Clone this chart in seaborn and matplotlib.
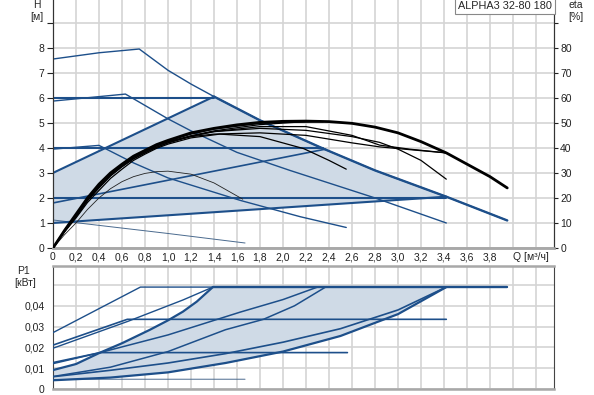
import numpy as np
import matplotlib
matplotlib.use("Agg")
import matplotlib.pyplot as plt
import seaborn as sns

# ---- H (m) curves vs Q (m3/h) ----
q_A = [0, 0.4, 0.75, 1.0, 1.2, 1.4, 1.8, 2.35, 2.8, 3.42, 3.95]
h_A = [7.55, 7.8, 7.95, 7.1, 6.55, 6.05, 5.1, 3.97, 3.1, 2.05, 1.1]
q_B = [0, 0.63, 1.0, 1.2, 1.6, 2.06, 2.8, 3.42]
h_B = [5.87, 6.15, 5.16, 4.68, 3.82, 3.1, 2.0, 1.0]
q_C = [0, 0.4, 0.7, 1.0, 1.63, 2.15, 2.55]
h_C = [3.95, 4.1, 3.4, 2.8, 1.9, 1.25, 0.82]
q_D = [0, 0.5, 1.0, 1.67]
h_D = [1.12, 0.85, 0.58, 0.2]

q_const6, h_const6 = [0, 1.4], [6, 6]
q_const4, h_const4 = [0, 2.35], [4, 4]
q_const2, h_const2 = [0, 3.42], [2, 2]
q_pp_up, h_pp_up = [0, 1.4], [3, 6.05]
q_pp_mid, h_pp_mid = [0, 2.37], [1.8, 3.95]
q_pp_low, h_pp_low = [0, 3.42], [1.0, 2.05]

# ---- eta (%) curves ----
q_eA = [0, 0.1, 0.2, 0.3, 0.4, 0.5, 0.6, 0.7, 0.8, 0.9, 1.0, 1.2, 1.4, 1.6, 1.8, 2.0, 2.2, 2.4, 2.6, 2.8, 3.0, 3.2, 3.42, 3.6, 3.8, 3.95]
e_A = [0, 7, 13.5, 20, 25.5, 30, 33.5, 36.7, 39, 41.3, 43, 46, 47.8, 49.2, 50.2, 50.6, 50.7, 50.5, 49.8, 48.3, 46, 42.5, 38, 33.5, 28.5, 24]
q_eB = [0, 0.1, 0.2, 0.3, 0.4, 0.5, 0.6, 0.7, 0.8, 0.9, 1.0, 1.2, 1.4, 1.8, 2.2, 2.6, 2.84, 3.0, 3.2, 3.42]
e_B = [0, 6.6, 12.5, 18.9, 24, 28.8, 32.5, 35.6, 38, 40.2, 42, 44.6, 46.5, 47.8, 47, 44.5, 42.2, 39.5, 35, 27.5]
q_eC = [0, 0.1, 0.2, 0.3, 0.4, 0.5, 0.6, 0.7, 0.8, 0.9, 1.0, 1.2, 1.45, 1.8, 2.18, 2.4, 2.55]
e_C = [0, 6.4, 12, 18.2, 23, 27.8, 31.5, 35, 37.5, 39.8, 41.5, 44, 45.5, 44.5, 39.7, 35, 31.5]
q_eD = [0, 0.1, 0.2, 0.3, 0.4, 0.5, 0.6, 0.7, 0.8, 0.9, 1.0, 1.2, 1.4, 1.65]
e_D = [0, 5.3, 10, 15.4, 20, 23.7, 26.5, 28.5, 29.8, 30.5, 30.7, 29.5, 26, 19.5]
q_eH2 = [0, 0.1, 0.2, 0.3, 0.4, 0.5, 0.6, 0.7, 0.8, 0.9, 1.0, 1.2, 1.4, 1.8, 2.2, 2.6, 2.84, 3.1, 3.42]
e_H2 = [0, 6.8, 12.8, 19.3, 24.5, 29.3, 33, 36.2, 38.5, 40.8, 42.5, 44.8, 46.5, 48.5, 48.5, 45, 41.1, 39.5, 38]
q_ePPlow = [0, 0.1, 0.2, 0.3, 0.4, 0.5, 0.6, 0.7, 0.8, 0.9, 1.0, 1.2, 1.4, 1.8, 2.2, 2.6, 2.84, 3.1, 3.42]
e_PPlow = [0, 6.9, 13, 19.7, 25, 29.5, 33, 36.2, 38.5, 40.8, 42.5, 44.5, 45.5, 46, 45, 42, 40.4, 39.3, 38]
q_eH4 = [0, 0.1, 0.2, 0.3, 0.4, 0.5, 0.6, 0.7, 0.8, 0.9, 1.0, 1.2, 1.4, 1.8, 2.1, 2.35]
e_H4 = [0, 7, 13.2, 19.8, 25, 29.7, 33.3, 36.5, 38.8, 41.1, 42.8, 45.5, 47.5, 49.8, 50.4, 50.5]
q_ePPmid = [0, 0.1, 0.2, 0.3, 0.4, 0.5, 0.6, 0.7, 0.8, 0.9, 1.0, 1.2, 1.4, 1.8, 2.1, 2.35]
e_PPmid = [0, 6.7, 12.7, 19.1, 24.2, 28.9, 32.5, 35.7, 38, 40.3, 42, 44.8, 46.8, 49.3, 50.2, 50.5]
q_eH6 = [0, 0.1, 0.2, 0.3, 0.4, 0.5, 0.6, 0.7, 0.8, 0.9, 1.0, 1.2, 1.4]
e_H6 = [0, 7.05, 13.3, 20, 25.3, 29.9, 33.4, 36.6, 38.9, 41.2, 42.9, 45.8, 47.8]

# ---- P1 (kW) curves ----
q_pA, p_A = [0, 0.76, 3.95], [0.0271, 0.049, 0.049]
q_pB, p_B = [0, 0.646, 3.42], [0.0211, 0.0335, 0.0335]
q_pC, p_C = [0, 0.41, 2.56], [0.0127, 0.0175, 0.0175]
q_pD, p_D = [0, 0.2, 1.67], [0.0044, 0.0047, 0.0047]
q_pH6 = [0, 0.65, 1.13, 1.39]
p_H6 = [0.0196, 0.0325, 0.0428, 0.049]
q_pH4 = [0, 0.41, 1.0, 1.63, 2.0, 2.30]
p_H4 = [0.0122, 0.0175, 0.026, 0.037, 0.043, 0.049]
q_pH2 = [0, 0.5, 1.0, 1.5, 2.0, 2.5, 3.0, 3.42]
p_H2 = [0.0059, 0.009, 0.0125, 0.017, 0.0225, 0.029, 0.038, 0.049]
q_pPPup = [0, 0.2, 0.41, 0.6, 0.84, 1.0, 1.13, 1.25, 1.39]
p_PPup = [0.0091, 0.012, 0.0175, 0.022, 0.0284, 0.033, 0.0372, 0.042, 0.049]
q_pPPmid = [0, 0.5, 1.0, 1.5, 1.83, 2.1, 2.37]
p_PPmid = [0.006, 0.0105, 0.018, 0.0285, 0.0335, 0.040, 0.049]
q_pPPlow = [0, 0.5, 1.0, 1.5, 2.0, 2.5, 3.0, 3.42]
p_PPlow = [0.0042, 0.0055, 0.008, 0.0125, 0.018, 0.0255, 0.036, 0.049]

x_ticks = [0, 0.2, 0.4, 0.6, 0.8, 1.0, 1.2, 1.4, 1.6, 1.8, 2.0, 2.2, 2.4, 2.6, 2.8, 3.0, 3.2, 3.4, 3.6, 3.8]
x_labels = [("%.1f" % v).replace(".", ",") if v else "0" for v in x_ticks]

BLUE = "#1d4f8a"
FILL = "#cfdae6"
GRID = "#d4d4d4"

sns.set_style("white")
plt.rcParams["font.family"] = ["Liberation Sans", "DejaVu Sans"]
plt.rcParams["font.size"] = 7.5

fig = plt.figure(figsize=(5.94, 3.95), dpi=100)
ax = fig.add_axes([53 / 594, 1 - 248 / 395, 501 / 594, 248 / 395])
ax2 = ax.twinx()
bx = fig.add_axes([53 / 594, 1 - 389 / 395, 501 / 594, 123 / 395])

xmax = 501 / 115

def line(a, q, v, lw=1.0, color=BLUE, z=3):
    sns.lineplot(x=q, y=v, ax=a, color=color, linewidth=lw, estimator=None, sort=False, zorder=z)

# ---------- top plot ----------
ia, ib = q_A.index(1.4), q_A.index(3.42)
poly_q = q_pp_up + q_A[ia:ib + 1] + q_pp_low[::-1]
poly_h = h_pp_up + h_A[ia:ib + 1] + h_pp_low[::-1]
ax.fill(poly_q, poly_h, color=FILL, zorder=1, lw=0)

line(ax, q_A, h_A, 1.0)
line(ax, q_A[ia:], h_A[ia:], 1.7)
line(ax, q_B, h_B, 1.0)
line(ax, q_C, h_C, 1.0)
line(ax, q_D, h_D, 0.7, color="#4a6a8e")
line(ax, q_const6, h_const6, 1.5)
line(ax, q_const4, h_const4, 1.5)
line(ax, q_const2, h_const2, 1.5)
line(ax, q_pp_up, h_pp_up, 1.5)
line(ax, q_pp_mid, h_pp_mid, 1.2)
line(ax, q_pp_low, h_pp_low, 1.5)

for q, e in [(q_eB, e_B), (q_eC, e_C), (q_eH2, e_H2), (q_ePPlow, e_PPlow),
             (q_eH4, e_H4), (q_ePPmid, e_PPmid), (q_eH6, e_H6)]:
    line(ax2, q, e, 0.9, color="black", z=4)
line(ax2, q_eD, e_D, 0.6, color="#222222")
line(ax2, q_eA, e_A, 2.0, color="black", z=5)

ax.set_xlim(0, xmax)
ax.set_ylim(0, 247.7 / 25)
ax2.set_ylim(0, 247.7 / 2.5)
ax.set_xticks(x_ticks)
ax.set_xticklabels(x_labels)
ax.set_xticks(np.arange(0, 4.3, 0.2), minor=True)
ax.set_yticks(range(0, 10))
ax.set_yticklabels([str(i) for i in range(0, 9)] + [""])
ax2.set_yticks(range(0, 100, 10))
ax2.set_yticklabels([str(i) for i in range(0, 90, 10)] + [""])
ax.grid(True, which="both", color=GRID, lw=1.2)
ax.set_axisbelow(True)
ax.tick_params(axis="x", which="both", length=0, pad=3, labelsize=7.5, colors="#222222")
ax.tick_params(axis="y", length=4, pad=2, labelsize=7.5, colors="#222222")
ax2.tick_params(axis="y", length=3, pad=1.5, labelsize=7.5, colors="#222222")
for a in (ax, ax2):
    a.spines["top"].set_visible(False)
    a.spines["left"].set_color("#333333")
    a.spines["right"].set_color("#333333")
    a.spines["bottom"].set_color("#a8a8a8")
    a.spines["bottom"].set_linewidth(1.8)
ax.set_xlabel("")
ax.set_ylabel("")
ax2.set_ylabel("")

fig.text(37 / 594, 1 - 5 / 395, "H", ha="center", va="center", fontsize=7.5)
fig.text(37 / 594, 1 - 17 / 395, "[м]", ha="center", va="center", fontsize=7.5)
fig.text(576 / 594, 1 - 5 / 395, "eta", ha="center", va="center", fontsize=7.5)
fig.text(576 / 594, 1 - 17 / 395, "[%]", ha="center", va="center", fontsize=7.5)
fig.text(531 / 594, 1 - 257 / 395, "Q [м³/ч]", ha="center", va="center", fontsize=7.5, color="#222222")
fig.text(505 / 594, 1 - 6 / 395, "ALPHA3 32-80 180", ha="center", va="center", fontsize=7.8,
         bbox=dict(boxstyle="square,pad=0.25", fc="white", ec="#888888", lw=0.8))

# ---------- bottom plot ----------
ju = q_pA.index(3.95)
bpoly_q = q_pPPup + q_pPPlow[::-1]
bpoly_p = p_PPup + p_PPlow[::-1]
bx.fill(bpoly_q, bpoly_p, color=FILL, zorder=1, lw=0)

line(bx, q_pA, p_A, 1.0)
line(bx, [1.39, q_pA[ju]], [p_A[1], p_A[ju]], 1.7)
line(bx, q_pB, p_B, 1.2)
line(bx, q_pC, p_C, 1.2)
line(bx, q_pD, p_D, 0.7, color="#4a6a8e")
line(bx, q_pH6, p_H6, 1.0)
line(bx, q_pH4, p_H4, 1.1)
line(bx, q_pH2, p_H2, 1.2)
line(bx, q_pPPup, p_PPup, 1.6)
line(bx, q_pPPmid, p_PPmid, 1.1)
line(bx, q_pPPlow, p_PPlow, 1.6)

bx.set_xlim(0, xmax)
bx.set_ylim(0, 123 / 2080)
bx.set_xticks(np.arange(0, 4.3, 0.2))
bx.set_xticklabels([])
bx.set_yticks([0, 0.01, 0.02, 0.03, 0.04, 0.05])
bx.set_yticklabels(["0", "0,01", "0,02", "0,03", "0,04", ""])
bx.grid(True, color=GRID, lw=1.2)
bx.set_axisbelow(True)
bx.tick_params(axis="x", length=0)
bx.tick_params(axis="y", length=4, pad=2, labelsize=7.5, colors="#222222")
for s in ("top", "bottom"):
    bx.spines[s].set_color("#a8a8a8")
    bx.spines[s].set_linewidth(1.8)
for s in ("left", "right"):
    bx.spines[s].set_color("#444444")
fig.text(23 / 594, 1 - 271 / 395, "P1", ha="center", va="center", fontsize=7.5)
fig.text(25 / 594, 1 - 283 / 395, "[кВт]", ha="center", va="center", fontsize=7.5)

fig.savefig("out.png", dpi=100)
